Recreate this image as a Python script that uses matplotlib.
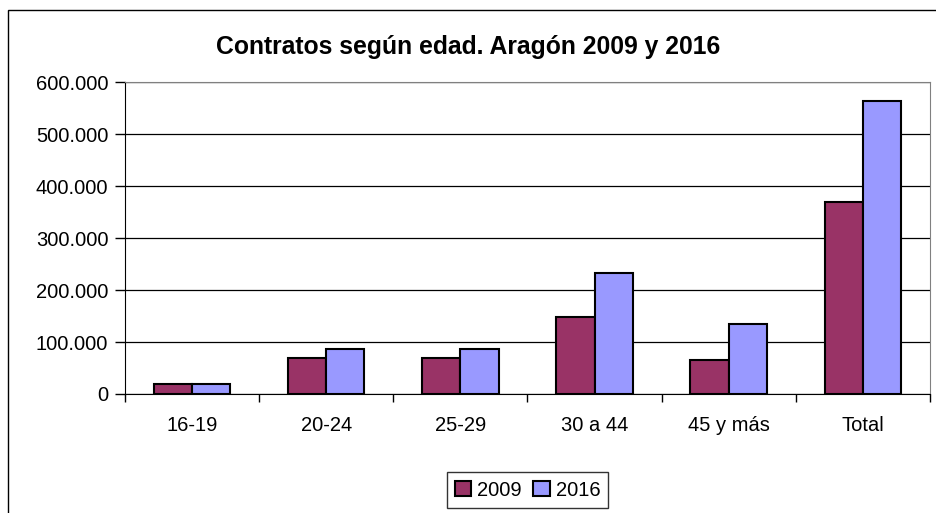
import matplotlib.pyplot as plt
import matplotlib.patches as mpatches
import matplotlib.ticker as mticker
import numpy as np

# Datos
categorias = ["16-19", "20-24", "25-29", "30 a 44", "45 y más", "Total"]
contratos_2009 = [19500, 69000, 69000, 149000, 65000, 370000]
contratos_2016 = [19000, 87000, 87000, 233000, 134000, 563000]
series = ["2009", "2016"]

plt.rcParams['font.family'] = ['Liberation Sans', 'DejaVu Sans']

fig = plt.figure(figsize=(9.36, 5.13), dpi=100)
ax = fig.add_axes([0.1335, 0.232, 0.86, 0.608])

x = np.arange(len(categorias))
ancho = 0.285
ax.bar(x - ancho / 2, contratos_2009, ancho, color='#993366', edgecolor='black', linewidth=1.5, label=series[0], zorder=3)
ax.bar(x + ancho / 2, contratos_2016, ancho, color='#9999FF', edgecolor='black', linewidth=1.5, label=series[1], zorder=3)

ax.set_xlim(-0.5, len(categorias) - 0.5)
ax.set_ylim(0, 600000)
ax.yaxis.set_major_locator(mticker.MultipleLocator(100000))
ax.yaxis.set_major_formatter(mticker.FuncFormatter(lambda v, p: f"{int(v):,}".replace(",", ".")))
ax.grid(axis='y', color='black', linewidth=0.9, zorder=0)

# ticks del eje x entre categorías
ax.set_xticks(np.arange(-0.5, len(categorias), 1))
ax.set_xticklabels([])
ax.set_xticks(x, minor=True)
ax.set_xticklabels(categorias, minor=True)
ax.tick_params(axis='x', which='minor', length=0, pad=16, labelsize=14.5)
ax.tick_params(axis='x', which='major', length=6, width=1, direction='out')
ax.tick_params(axis='y', length=7, width=1, pad=5, labelsize=14.5)

ax.spines['top'].set_color('#808080')
ax.spines['right'].set_color('#808080')
ax.spines['left'].set_color('black')
ax.spines['bottom'].set_color('black')
ax.spines['bottom'].set_zorder(4)

fig.suptitle("Contratos según edad. Aragón 2009 y 2016", x=0.5, y=0.932,
             fontsize=17.8, fontweight='bold')

leg = ax.legend(loc='center', bbox_to_anchor=(0.5, -0.308, 0, 0), ncol=2, fontsize=14.5,
                frameon=True, fancybox=False, edgecolor='black', handlelength=0.8, handleheight=0.8,
                handletextpad=0.3, columnspacing=0.6, borderpad=0.4)
leg.get_frame().set_linewidth(1)

# borde exterior del gráfico
borde = mpatches.Rectangle((8 / 936, -0.1), 1.2, 1 - 10 / 513 + 0.1, transform=fig.transFigure,
                           fill=False, edgecolor='black', linewidth=1, clip_on=False)
fig.patches.append(borde)

fig.savefig("out.png", dpi=100)
